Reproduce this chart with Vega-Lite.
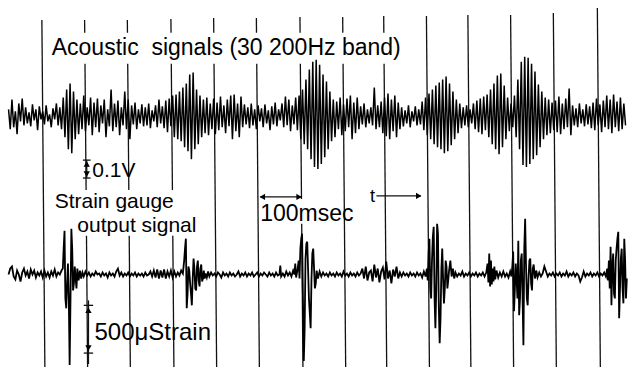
{
"$schema": "https://vega.github.io/schema/vega-lite/v6.json",
"width": 631, "height": 369,
"autosize": {"type": "fit", "contains": "padding"},
"padding": 0,
"background": "white",
"config": {"view": {"stroke": null}},
"encoding": {
 "x": {"field": "t", "type": "quantitative", "scale": {"domain": [0, 1467.4], "nice": false, "zero": false}, "axis": null},
 "y": {"field": "y", "type": "quantitative", "scale": {"domain": [0, 369], "reverse": true, "nice": false, "zero": false}, "axis": null}
},
"layer": [
{
 "data": {"values": [
 {"t":98,"t2":105,"y":20,"y2":369},
 {"t":198,"t2":198.3,"y":20,"y2":33},{"t":198.9,"t2":201.5,"y":64,"y2":191},{"t":202.4,"t2":205,"y":237,"y2":369},
 {"t":298,"t2":298.3,"y":20,"y2":33},{"t":298.9,"t2":301.5,"y":64,"y2":191},{"t":302.4,"t2":305,"y":237,"y2":369},
 {"t":400,"t2":400.3,"y":19,"y2":33},{"t":400.9,"t2":403.5,"y":64,"y2":191},{"t":404.4,"t2":407,"y":237,"y2":369},
 {"t":500,"t2":500.3,"y":18,"y2":33},{"t":500.9,"t2":507,"y":64,"y2":369},
 {"t":600,"t2":600.3,"y":18,"y2":33},{"t":600.9,"t2":607,"y":64,"y2":369},
 {"t":702,"t2":702.3,"y":17,"y2":33},{"t":702.9,"t2":705.6,"y":64,"y2":200},{"t":706.1,"t2":709,"y":225,"y2":369},
 {"t":802,"t2":802.3,"y":17,"y2":33},{"t":802.9,"t2":809,"y":64,"y2":369},
 {"t":898,"t2":898.3,"y":16,"y2":33},{"t":898.9,"t2":905,"y":64,"y2":369},
 {"t":998,"t2":1005,"y":16,"y2":369},
 {"t":1095,"t2":1102,"y":15,"y2":369},
 {"t":1195,"t2":1202,"y":15,"y2":369},
 {"t":1295,"t2":1302,"y":13,"y2":369},
 {"t":1398,"t2":1405,"y":8,"y2":369},
 {"t":203,"t2":203,"y":161,"y2":179},{"t":194,"t2":212,"y":161,"y2":161},{"t":194,"t2":212,"y":179,"y2":179},
 {"t":207,"t2":207,"y":302,"y2":366},{"t":196,"t2":218,"y":307,"y2":307},{"t":196,"t2":218,"y":355,"y2":355},
 {"t":609,"t2":705,"y":198,"y2":198},{"t":881,"t2":985,"y":197,"y2":197}
 ]},
 "mark": {"type": "rule", "color": "#111", "strokeWidth": 1.3},
 "encoding": {"x2": {"field": "t2"}, "y2": {"field": "y2"}}
},
{
 "data": {"values": [
{"t":20,"y":110},{"t":24,"y":130},{"t":28,"y":100},{"t":32,"y":128},{"t":36,"y":112},{"t":40,"y":135},{"t":44,"y":104},{"t":48,"y":122},{"t":52,"y":99},{"t":56,"y":126},
{"t":60,"y":108},{"t":64,"y":124},{"t":68,"y":113},{"t":72,"y":127},{"t":76,"y":105},{"t":80,"y":121},{"t":84,"y":110},{"t":88,"y":131},{"t":92,"y":107},{"t":96,"y":120},
{"t":100,"y":112},{"t":104,"y":125},{"t":108,"y":106},{"t":112,"y":122},{"t":116,"y":115},{"t":120,"y":128},{"t":124,"y":109},{"t":128,"y":120},{"t":132,"y":104},{"t":136,"y":126},
{"t":140,"y":108},{"t":144,"y":130},{"t":148,"y":98},{"t":152,"y":138},{"t":156,"y":90},{"t":160,"y":150},{"t":164,"y":84},{"t":168,"y":154},{"t":172,"y":92},{"t":176,"y":140},
{"t":180,"y":100},{"t":184,"y":135},{"t":188,"y":104},{"t":192,"y":130},{"t":196,"y":96},{"t":200,"y":132},{"t":204,"y":108},{"t":208,"y":126},{"t":212,"y":98},{"t":216,"y":136},
{"t":220,"y":103},{"t":224,"y":128},{"t":228,"y":99},{"t":232,"y":133},{"t":236,"y":106},{"t":240,"y":124},{"t":244,"y":100},{"t":248,"y":138},{"t":252,"y":110},{"t":256,"y":127},
{"t":260,"y":90},{"t":264,"y":132},{"t":268,"y":104},{"t":272,"y":128},{"t":276,"y":101},{"t":280,"y":136},{"t":284,"y":108},{"t":288,"y":126},{"t":292,"y":92},{"t":296,"y":130},
{"t":300,"y":100},{"t":304,"y":140},{"t":308,"y":106},{"t":312,"y":125},{"t":316,"y":103},{"t":320,"y":130},{"t":324,"y":110},{"t":328,"y":124},{"t":332,"y":105},{"t":336,"y":127},
{"t":340,"y":108},{"t":344,"y":126},{"t":348,"y":104},{"t":352,"y":129},{"t":356,"y":111},{"t":360,"y":122},{"t":364,"y":106},{"t":368,"y":128},{"t":372,"y":100},{"t":376,"y":124},
{"t":380,"y":107},{"t":384,"y":129},{"t":388,"y":101},{"t":392,"y":133},{"t":396,"y":99},{"t":400,"y":127},{"t":404,"y":96},{"t":408,"y":138},{"t":412,"y":95},{"t":416,"y":140},
{"t":420,"y":92},{"t":424,"y":142},{"t":428,"y":88},{"t":432,"y":148},{"t":436,"y":84},{"t":440,"y":152},{"t":444,"y":75},{"t":448,"y":160},{"t":452,"y":73},{"t":456,"y":150},
{"t":460,"y":90},{"t":464,"y":145},{"t":468,"y":96},{"t":472,"y":138},{"t":476,"y":100},{"t":480,"y":134},{"t":484,"y":98},{"t":488,"y":136},{"t":492,"y":104},{"t":496,"y":130},
{"t":500,"y":99},{"t":504,"y":135},{"t":508,"y":103},{"t":512,"y":131},{"t":516,"y":97},{"t":520,"y":128},{"t":524,"y":106},{"t":528,"y":134},{"t":532,"y":100},{"t":536,"y":127},
{"t":540,"y":96},{"t":544,"y":140},{"t":548,"y":95},{"t":552,"y":132},{"t":556,"y":104},{"t":560,"y":138},{"t":564,"y":97},{"t":568,"y":128},{"t":572,"y":105},{"t":576,"y":125},
{"t":580,"y":108},{"t":584,"y":129},{"t":588,"y":104},{"t":592,"y":126},{"t":596,"y":110},{"t":600,"y":130},{"t":604,"y":106},{"t":608,"y":122},{"t":612,"y":109},{"t":616,"y":128},
{"t":620,"y":105},{"t":624,"y":124},{"t":628,"y":111},{"t":632,"y":131},{"t":636,"y":107},{"t":640,"y":125},{"t":644,"y":103},{"t":648,"y":127},{"t":652,"y":110},{"t":656,"y":121},
{"t":660,"y":104},{"t":664,"y":128},{"t":668,"y":97},{"t":672,"y":126},{"t":676,"y":100},{"t":680,"y":132},{"t":684,"y":106},{"t":688,"y":125},{"t":692,"y":98},{"t":696,"y":131},
{"t":700,"y":96},{"t":704,"y":140},{"t":708,"y":90},{"t":712,"y":145},{"t":716,"y":80},{"t":720,"y":150},{"t":724,"y":70},{"t":728,"y":160},{"t":732,"y":62},{"t":736,"y":168},
{"t":740,"y":60},{"t":744,"y":170},{"t":748,"y":65},{"t":752,"y":165},{"t":756,"y":75},{"t":760,"y":158},{"t":764,"y":82},{"t":768,"y":150},{"t":772,"y":92},{"t":776,"y":142},
{"t":780,"y":100},{"t":784,"y":138},{"t":788,"y":102},{"t":792,"y":130},{"t":796,"y":98},{"t":800,"y":136},{"t":804,"y":105},{"t":808,"y":132},{"t":812,"y":99},{"t":816,"y":128},
{"t":820,"y":96},{"t":824,"y":140},{"t":828,"y":103},{"t":832,"y":134},{"t":836,"y":98},{"t":840,"y":130},{"t":844,"y":107},{"t":848,"y":125},{"t":852,"y":104},{"t":856,"y":128},
{"t":860,"y":110},{"t":864,"y":124},{"t":868,"y":108},{"t":872,"y":126},{"t":876,"y":88},{"t":880,"y":130},{"t":884,"y":106},{"t":888,"y":128},{"t":892,"y":102},{"t":896,"y":134},
{"t":900,"y":98},{"t":904,"y":137},{"t":908,"y":94},{"t":912,"y":140},{"t":916,"y":100},{"t":920,"y":132},{"t":924,"y":96},{"t":928,"y":138},{"t":932,"y":103},{"t":936,"y":130},
{"t":940,"y":108},{"t":944,"y":127},{"t":948,"y":111},{"t":952,"y":124},{"t":956,"y":106},{"t":960,"y":128},{"t":964,"y":112},{"t":968,"y":122},{"t":972,"y":107},{"t":976,"y":126},
{"t":980,"y":110},{"t":984,"y":125},{"t":988,"y":102},{"t":992,"y":131},{"t":996,"y":98},{"t":1000,"y":136},{"t":1004,"y":94},{"t":1008,"y":140},{"t":1012,"y":90},{"t":1016,"y":145},
{"t":1020,"y":86},{"t":1024,"y":148},{"t":1028,"y":83},{"t":1032,"y":150},{"t":1036,"y":80},{"t":1040,"y":154},{"t":1044,"y":77},{"t":1048,"y":152},{"t":1052,"y":84},{"t":1056,"y":146},
{"t":1060,"y":92},{"t":1064,"y":140},{"t":1068,"y":100},{"t":1072,"y":134},{"t":1076,"y":104},{"t":1080,"y":129},{"t":1084,"y":108},{"t":1088,"y":126},{"t":1092,"y":106},{"t":1096,"y":128},
{"t":1100,"y":110},{"t":1104,"y":124},{"t":1108,"y":104},{"t":1112,"y":130},{"t":1116,"y":101},{"t":1120,"y":133},{"t":1124,"y":99},{"t":1128,"y":135},{"t":1132,"y":97},{"t":1136,"y":131},
{"t":1140,"y":95},{"t":1144,"y":138},{"t":1148,"y":90},{"t":1152,"y":145},{"t":1156,"y":84},{"t":1160,"y":150},{"t":1164,"y":76},{"t":1168,"y":155},{"t":1172,"y":74},{"t":1176,"y":148},
{"t":1180,"y":86},{"t":1184,"y":140},{"t":1188,"y":98},{"t":1192,"y":132},{"t":1196,"y":104},{"t":1200,"y":128},{"t":1204,"y":96},{"t":1208,"y":138},{"t":1212,"y":80},{"t":1216,"y":150},
{"t":1220,"y":62},{"t":1224,"y":166},{"t":1228,"y":57},{"t":1232,"y":168},{"t":1236,"y":58},{"t":1240,"y":165},{"t":1244,"y":64},{"t":1248,"y":160},{"t":1252,"y":72},{"t":1256,"y":156},
{"t":1260,"y":85},{"t":1264,"y":148},{"t":1268,"y":92},{"t":1272,"y":140},{"t":1276,"y":98},{"t":1280,"y":136},{"t":1284,"y":100},{"t":1288,"y":134},{"t":1292,"y":103},{"t":1296,"y":131},
{"t":1300,"y":101},{"t":1304,"y":133},{"t":1308,"y":97},{"t":1312,"y":135},{"t":1316,"y":104},{"t":1320,"y":130},{"t":1324,"y":99},{"t":1328,"y":128},{"t":1332,"y":89},{"t":1336,"y":136},
{"t":1340,"y":106},{"t":1344,"y":126},{"t":1348,"y":109},{"t":1352,"y":128},{"t":1356,"y":104},{"t":1360,"y":124},{"t":1364,"y":110},{"t":1368,"y":127},{"t":1372,"y":105},{"t":1376,"y":125},
{"t":1380,"y":107},{"t":1384,"y":129},{"t":1388,"y":103},{"t":1392,"y":131},{"t":1396,"y":99},{"t":1400,"y":126},{"t":1404,"y":105},{"t":1408,"y":133},{"t":1412,"y":101},{"t":1416,"y":128},
{"t":1420,"y":96},{"t":1424,"y":130},{"t":1428,"y":100},{"t":1432,"y":134},{"t":1436,"y":95},{"t":1440,"y":128},{"t":1444,"y":102},{"t":1448,"y":132},{"t":1452,"y":98},{"t":1456,"y":130},
{"t":1460,"y":104},{"t":1464,"y":126}
 ]},
 "mark": {"type": "line", "color": "black", "strokeWidth": 1.5}
},
{
 "data": {"values": [
{"t":20,"y":276},{"t":24,"y":270},{"t":28,"y":268},{"t":32,"y":278},{"t":36,"y":281},{"t":40,"y":272},{"t":44,"y":276},{"t":48,"y":283},{"t":52,"y":274},{"t":56,"y":270},{"t":60,"y":277},{"t":64,"y":273},{"t":68,"y":280},{"t":72,"y":271},{"t":76,"y":276},{"t":80,"y":272},{"t":84,"y":279},{"t":88,"y":274},{"t":92,"y":277},
{"t":96,"y":273},{"t":100,"y":279},{"t":104,"y":272},{"t":108,"y":278},{"t":112,"y":274},{"t":116,"y":279},{"t":120,"y":273},{"t":124,"y":277},{"t":128,"y":271},{"t":132,"y":278},{"t":136,"y":274},{"t":140,"y":276},{"t":144,"y":272},
{"t":147,"y":270},{"t":149,"y":250},{"t":151,"y":232},{"t":153,"y":300},{"t":155,"y":310},{"t":157,"y":285},{"t":159,"y":265},{"t":161,"y":300},{"t":163,"y":367},{"t":165,"y":300},{"t":167,"y":230},{"t":169,"y":250},{"t":171,"y":292},{"t":173,"y":285},{"t":175,"y":268},{"t":177,"y":280},{"t":179,"y":290},{"t":181,"y":270},{"t":184,"y":282},{"t":187,"y":272},{"t":190,"y":280},{"t":193,"y":274},
{"t":196,"y":278},{"t":200,"y":273},{"t":204,"y":277},{"t":208,"y":274},{"t":212,"y":278},{"t":216,"y":275},{"t":220,"y":277},{"t":224,"y":273},{"t":228,"y":276},{"t":232,"y":275},{"t":236,"y":278},{"t":240,"y":274},{"t":244,"y":277},{"t":248,"y":275},{"t":252,"y":279},{"t":256,"y":274},{"t":260,"y":277},{"t":264,"y":275},{"t":268,"y":278},{"t":272,"y":273},{"t":276,"y":270},{"t":280,"y":277},{"t":284,"y":274},{"t":288,"y":278},{"t":292,"y":275},{"t":296,"y":277},{"t":300,"y":274},{"t":304,"y":278},{"t":308,"y":275},{"t":312,"y":277},{"t":316,"y":274},{"t":320,"y":278},{"t":324,"y":275},{"t":328,"y":277},{"t":332,"y":275},{"t":336,"y":278},{"t":340,"y":274},{"t":344,"y":277},{"t":348,"y":276},{"t":352,"y":273},{"t":356,"y":278},{"t":360,"y":272},{"t":364,"y":279},{"t":368,"y":271},{"t":372,"y":280},{"t":376,"y":272},{"t":380,"y":279},{"t":384,"y":271},{"t":388,"y":280},{"t":392,"y":273},{"t":396,"y":278},{"t":400,"y":272},{"t":404,"y":279},{"t":408,"y":273},{"t":412,"y":278},{"t":416,"y":274},{"t":420,"y":277},{"t":424,"y":272},{"t":428,"y":275},
{"t":431,"y":262},{"t":433,"y":250},{"t":435,"y":240},{"t":437,"y":310},{"t":439,"y":295},{"t":441,"y":268},{"t":443,"y":272},{"t":445,"y":285},{"t":447,"y":295},{"t":449,"y":307},{"t":451,"y":280},{"t":453,"y":260},{"t":455,"y":270},{"t":457,"y":290},{"t":459,"y":292},{"t":461,"y":268},{"t":463,"y":262},{"t":465,"y":282},{"t":467,"y":288},{"t":469,"y":270},{"t":471,"y":266},{"t":473,"y":283},{"t":475,"y":280},{"t":477,"y":272},{"t":479,"y":280},{"t":481,"y":275},{"t":484,"y":279},{"t":487,"y":273},
{"t":490,"y":278},{"t":494,"y":274},{"t":498,"y":277},{"t":502,"y":275},{"t":506,"y":278},{"t":510,"y":274},{"t":514,"y":276},{"t":518,"y":279},{"t":522,"y":274},{"t":526,"y":277},{"t":530,"y":275},{"t":534,"y":278},{"t":538,"y":274},{"t":542,"y":277},{"t":546,"y":275},{"t":550,"y":278},{"t":554,"y":276},{"t":558,"y":273},{"t":562,"y":278},{"t":566,"y":275},{"t":570,"y":277},{"t":574,"y":274},{"t":578,"y":278},{"t":582,"y":275},{"t":586,"y":277},{"t":590,"y":274},{"t":594,"y":278},{"t":598,"y":276},{"t":602,"y":274},{"t":606,"y":278},{"t":610,"y":275},{"t":614,"y":277},{"t":618,"y":274},{"t":622,"y":276},{"t":626,"y":278},{"t":630,"y":274},{"t":634,"y":277},{"t":638,"y":275},{"t":642,"y":278},{"t":646,"y":274},{"t":650,"y":277},{"t":654,"y":276},{"t":656,"y":267},{"t":658,"y":278},{"t":662,"y":275},{"t":666,"y":278},{"t":670,"y":273},{"t":674,"y":277},{"t":678,"y":274},{"t":682,"y":278},{"t":686,"y":272},{"t":689,"y":276},{"t":691,"y":265},{"t":693,"y":279},{"t":696,"y":272},
{"t":699,"y":262},{"t":701,"y":280},{"t":703,"y":250},{"t":705,"y":240},{"t":707,"y":235},{"t":709,"y":300},{"t":711,"y":363},{"t":713,"y":330},{"t":715,"y":260},{"t":717,"y":245},{"t":719,"y":243},{"t":721,"y":270},{"t":723,"y":300},{"t":725,"y":315},{"t":727,"y":330},{"t":729,"y":280},{"t":731,"y":255},{"t":733,"y":250},{"t":735,"y":270},{"t":737,"y":290},{"t":739,"y":285},{"t":741,"y":272},{"t":744,"y":280},{"t":748,"y":273},
{"t":752,"y":278},{"t":756,"y":274},{"t":760,"y":277},{"t":764,"y":275},{"t":768,"y":278},{"t":772,"y":274},{"t":776,"y":277},{"t":780,"y":275},{"t":784,"y":278},{"t":788,"y":274},{"t":792,"y":277},{"t":796,"y":275},{"t":800,"y":278},{"t":804,"y":273},{"t":808,"y":277},{"t":812,"y":275},{"t":816,"y":278},{"t":820,"y":274},{"t":824,"y":277},{"t":828,"y":275},{"t":832,"y":278},{"t":836,"y":274},{"t":840,"y":277},{"t":844,"y":275},
{"t":848,"y":270},{"t":852,"y":280},{"t":856,"y":268},{"t":860,"y":282},{"t":864,"y":274},{"t":868,"y":272},{"t":872,"y":283},{"t":876,"y":266},{"t":880,"y":279},{"t":884,"y":270},{"t":888,"y":284},{"t":892,"y":273},{"t":896,"y":269},{"t":900,"y":281},{"t":904,"y":263},{"t":908,"y":280},{"t":912,"y":272},{"t":916,"y":285},{"t":920,"y":271},{"t":924,"y":278},{"t":928,"y":268},{"t":932,"y":280},{"t":936,"y":274},
{"t":940,"y":278},{"t":944,"y":274},{"t":948,"y":277},{"t":952,"y":275},{"t":956,"y":278},{"t":960,"y":274},{"t":964,"y":277},{"t":968,"y":275},{"t":972,"y":278},{"t":976,"y":274},{"t":980,"y":277},{"t":984,"y":275},{"t":988,"y":279},{"t":992,"y":273},{"t":996,"y":278},
{"t":999,"y":270},{"t":1001,"y":282},{"t":1003,"y":255},{"t":1005,"y":240},{"t":1007,"y":290},{"t":1009,"y":300},{"t":1011,"y":262},{"t":1013,"y":238},{"t":1015,"y":228},{"t":1017,"y":300},{"t":1019,"y":330},{"t":1021,"y":290},{"t":1023,"y":225},{"t":1025,"y":235},{"t":1027,"y":310},{"t":1029,"y":345},{"t":1031,"y":320},{"t":1033,"y":270},{"t":1035,"y":250},{"t":1037,"y":280},{"t":1039,"y":305},{"t":1041,"y":290},{"t":1043,"y":262},{"t":1045,"y":268},{"t":1047,"y":290},{"t":1049,"y":282},{"t":1051,"y":272},{"t":1054,"y":262},{"t":1057,"y":278},{"t":1060,"y":270},{"t":1063,"y":280},
{"t":1066,"y":274},{"t":1070,"y":278},{"t":1074,"y":275},{"t":1078,"y":277},{"t":1082,"y":273},{"t":1086,"y":278},{"t":1090,"y":275},{"t":1094,"y":277},{"t":1098,"y":274},{"t":1102,"y":278},{"t":1106,"y":275},{"t":1110,"y":277},{"t":1114,"y":274},{"t":1118,"y":278},{"t":1122,"y":275},{"t":1126,"y":277},{"t":1130,"y":274},{"t":1134,"y":278},{"t":1138,"y":274},
{"t":1141,"y":265},{"t":1143,"y":284},{"t":1145,"y":255},{"t":1147,"y":288},{"t":1149,"y":262},{"t":1151,"y":286},{"t":1153,"y":270},{"t":1155,"y":283},{"t":1157,"y":268},{"t":1159,"y":281},{"t":1162,"y":272},{"t":1166,"y":279},{"t":1170,"y":274},{"t":1174,"y":278},{"t":1178,"y":273},{"t":1182,"y":278},{"t":1186,"y":275},{"t":1190,"y":279},{"t":1194,"y":273},{"t":1197,"y":278},
{"t":1199,"y":268},{"t":1201,"y":253},{"t":1203,"y":313},{"t":1205,"y":290},{"t":1207,"y":265},{"t":1209,"y":280},{"t":1211,"y":300},{"t":1213,"y":242},{"t":1215,"y":317},{"t":1217,"y":300},{"t":1219,"y":262},{"t":1221,"y":255},{"t":1223,"y":300},{"t":1225,"y":347},{"t":1227,"y":250},{"t":1229,"y":220},{"t":1231,"y":265},{"t":1233,"y":300},{"t":1235,"y":307},{"t":1237,"y":280},{"t":1239,"y":262},{"t":1241,"y":260},{"t":1243,"y":285},{"t":1245,"y":292},{"t":1247,"y":270},{"t":1249,"y":266},{"t":1252,"y":280},{"t":1255,"y":272},{"t":1258,"y":279},
{"t":1262,"y":274},{"t":1266,"y":278},{"t":1270,"y":275},{"t":1274,"y":268},{"t":1278,"y":273},{"t":1282,"y":278},{"t":1286,"y":275},{"t":1290,"y":277},{"t":1294,"y":274},{"t":1298,"y":278},{"t":1302,"y":275},{"t":1306,"y":277},{"t":1310,"y":274},{"t":1314,"y":278},{"t":1318,"y":275},{"t":1322,"y":277},{"t":1326,"y":273},{"t":1330,"y":278},{"t":1334,"y":275},{"t":1338,"y":277},{"t":1342,"y":274},{"t":1346,"y":278},{"t":1350,"y":275},{"t":1354,"y":277},{"t":1358,"y":283},{"t":1362,"y":279},{"t":1366,"y":273},{"t":1370,"y":278},{"t":1374,"y":275},{"t":1378,"y":277},{"t":1382,"y":274},{"t":1386,"y":278},{"t":1390,"y":275},{"t":1394,"y":277},{"t":1398,"y":274},{"t":1402,"y":278},{"t":1406,"y":275},{"t":1410,"y":277},{"t":1414,"y":274},{"t":1418,"y":278},
{"t":1421,"y":270},{"t":1423,"y":282},{"t":1425,"y":262},{"t":1427,"y":290},{"t":1429,"y":248},{"t":1431,"y":307},{"t":1433,"y":268},{"t":1435,"y":255},{"t":1437,"y":295},{"t":1439,"y":300},{"t":1441,"y":262},{"t":1443,"y":250},{"t":1445,"y":240},{"t":1447,"y":233},{"t":1449,"y":320},{"t":1451,"y":290},{"t":1453,"y":260},{"t":1455,"y":250},{"t":1457,"y":290},{"t":1459,"y":305},{"t":1461,"y":240},{"t":1463,"y":262},{"t":1465,"y":300},{"t":1467,"y":280}
 ]},
 "mark": {"type": "line", "color": "black", "strokeWidth": 1.8}
},
{
 "data": {"values": [
 {"t":203,"y":165,"dir":"up"},{"t":203,"y":175,"dir":"down"},
 {"t":207,"y":312,"dir":"up"},{"t":207,"y":350,"dir":"down"},
 {"t":614,"y":198,"dir":"left"},{"t":700,"y":198,"dir":"right"},
 {"t":980,"y":197,"dir":"right"}
 ]},
 "mark": {"type": "point", "filled": true, "color": "black", "opacity": 1, "size": 40},
 "encoding": {"shape": {"field": "dir", "type": "nominal", "scale": {"domain": ["up","down","left","right"], "range": ["triangle-up","triangle-down","triangle-left","triangle-right"]}, "legend": null}}
},
{
 "data": {"values": [
 {"label": "Acoustic \u00a0signals (30 200Hz band)", "t": 121, "y": 55},
 {"label": "100msec", "t": 609, "y": 222}
 ]},
 "mark": {"type": "text", "align": "left", "baseline": "alphabetic", "font": "Liberation Sans", "fontSize": 23, "color": "black"},
 "encoding": {"text": {"field": "label"}}
},
{
 "data": {"values": [
 {"label": "500\u03bcStrain", "t": 221, "y": 342}
 ]},
 "mark": {"type": "text", "align": "left", "baseline": "alphabetic", "font": "Liberation Sans", "fontSize": 24, "color": "black"},
 "encoding": {"text": {"field": "label"}}
},
{
 "data": {"values": [
 {"label": "0.1V", "t": 216, "y": 178},
 {"label": "Strain gauge", "t": 128, "y": 209},
 {"label": "output signal", "t": 181, "y": 233}
 ]},
 "mark": {"type": "text", "align": "left", "baseline": "alphabetic", "font": "Liberation Sans", "fontSize": 21, "color": "black"},
 "encoding": {"text": {"field": "label"}}
},
{
 "data": {"values": [
 {"label": "t", "t": 872, "y": 203}
 ]},
 "mark": {"type": "text", "align": "center", "baseline": "alphabetic", "font": "Liberation Sans", "fontSize": 18, "color": "black"},
 "encoding": {"text": {"field": "label"}}
}
]
}
